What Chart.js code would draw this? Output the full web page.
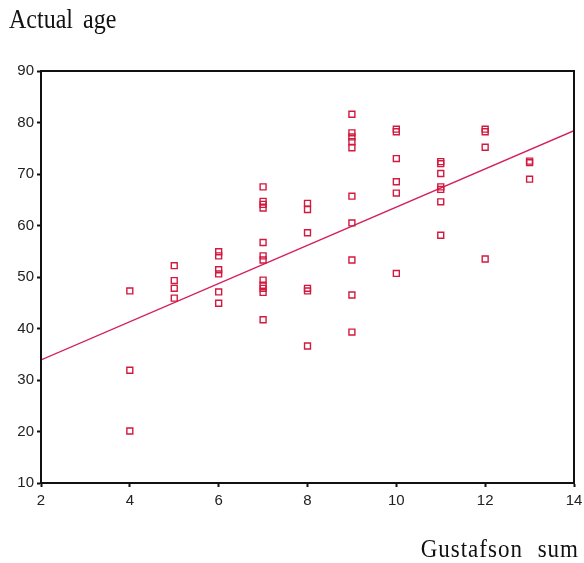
<!DOCTYPE html>
<html>
<head>
<meta charset="utf-8">
<script src="https://cdn.jsdelivr.net/npm/chart.js@4.4.1/dist/chart.umd.min.js"></script>
<style>
  html, body { margin: 0; padding: 0; background: #fff; }
  #wrap { width: 584px; height: 563px; }
</style>
</head>
<body>
<div id="wrap"><canvas id="age-chart" width="584" height="563"></canvas></div>
<script>
// Gustafson sum (x) and actual age (y) for each case
const gustafson = [
  4, 4, 4,
  5, 5, 5, 5,
  6, 6, 6, 6, 6, 6,
  7, 7, 7, 7, 7, 7, 7, 7, 7, 7, 7, 7,
  8, 8, 8, 8, 8, 8,
  9, 9, 9, 9, 9, 9, 9, 9, 9, 9,
  10, 10, 10, 10, 10, 10,
  11, 11, 11, 11, 11, 11, 11,
  12, 12, 12, 12,
  13, 13, 13
];
const actualAge = [
  47.3, 31.9, 20.1,
  52.2, 49.3, 47.8, 45.9,
  54.9, 54.1, 51.4, 50.6, 47.1, 44.9,
  67.5, 64.7, 64.1, 63.4, 56.7, 54.1, 53.3, 49.4, 48.4, 47.8, 47.0, 41.7,
  64.3, 63.1, 58.6, 47.8, 47.3, 36.6,
  81.6, 78.0, 77.2, 76.3, 75.1, 65.7, 60.5, 53.3, 46.5, 39.3,
  78.7, 78.2, 73.0, 68.5, 66.3, 50.7,
  72.4, 72.0, 70.1, 67.5, 67.0, 64.6, 58.1,
  78.7, 78.2, 75.2, 53.5,
  72.5, 72.2, 69.0
];

// fitted regression line, ends at the axis limits
const fitX = [2, 14];
const fitY = [33.9, 78.4];

const xTicks = [2, 4, 6, 8, 10, 12, 14];
const yTicks = [10, 20, 30, 40, 50, 60, 70, 80, 90];

const yTitle = 'Actual age';
const xTitle = 'Gustafson sum';

// box around the plot area + the two axis captions (old SPSS style)
const frameBox = {
    id: 'frameBox',
    afterDraw(chart) {
        const { ctx, chartArea: a } = chart;
        ctx.save();
        ctx.strokeStyle = '#111';
        ctx.lineWidth = 2;
        ctx.strokeRect(a.left, a.top, a.right - a.left, a.bottom - a.top);

        ctx.fillStyle = '#111';
        ctx.textBaseline = 'alphabetic';

        // caption of the y axis, top left
        ctx.save();
        ctx.font = '24px "Liberation Serif"';
        if ('wordSpacing' in ctx) ctx.wordSpacing = '4px';
        ctx.translate(9, 28);
        ctx.scale(1, 1.12);
        ctx.textAlign = 'left';
        ctx.fillText(yTitle, 0, 0);
        ctx.restore();

        // caption of the x axis, bottom right
        ctx.save();
        ctx.font = '23px "Liberation Serif"';
        if ('wordSpacing' in ctx) ctx.wordSpacing = '8px';
        if ('letterSpacing' in ctx) ctx.letterSpacing = '1px';
        ctx.translate(579, 557);
        ctx.scale(1, 1.1);
        ctx.textAlign = 'right';
        ctx.fillText(xTitle, 0, 0);
        ctx.restore();

        ctx.restore();
    }
};

new Chart(document.getElementById('age-chart'), {
    type: 'scatter',
    data: {
        datasets: [
            {
                label: 'Cases',
                data: gustafson.map((g, i) => ({ x: g, y: actualAge[i] })),
                pointStyle: 'rect',
                pointRadius: 4.2,
                pointBorderWidth: 1.4,
                borderColor: '#d11a3f',
                backgroundColor: 'rgba(0,0,0,0)'
            },
            {
                type: 'line',
                label: 'Fit',
                data: fitX.map((g, i) => ({ x: g, y: fitY[i] })),
                borderColor: '#d41f5c',
                borderWidth: 1.4,
                pointRadius: 0,
                fill: false
            }
        ]
    },
    options: {
        responsive: false,
        animation: false,
        layout: { padding: { left: 0, right: 0, top: 71, bottom: 48 } },
        plugins: {
            legend: { display: false },
            tooltip: { enabled: false },
            title: { display: false }
        },
        scales: {
            x: {
                type: 'linear',
                min: 2,
                max: 14,
                afterBuildTicks: s => { s.ticks = xTicks.map(v => ({ value: v })); },
                afterFit: s => { s.paddingRight = 10; s.paddingLeft = 0; },
                grid: { drawOnChartArea: false, drawTicks: true, tickLength: 4, color: '#111', tickWidth: 2 },
                border: { color: '#111', width: 2 },
                ticks: {
                    color: '#222',
                    padding: 5,
                    font: { family: 'Liberation Sans', size: 15 }
                }
            },
            y: {
                type: 'linear',
                min: 10,
                max: 90,
                afterBuildTicks: s => { s.ticks = yTicks.map(v => ({ value: v })); },
                afterFit: s => { s.width = 41; },
                grid: { drawOnChartArea: false, drawTicks: true, tickLength: 4, color: '#111', tickWidth: 2 },
                border: { color: '#111', width: 2 },
                ticks: {
                    color: '#222',
                    padding: 3,
                    font: { family: 'Liberation Sans', size: 15 }
                }
            }
        }
    },
    plugins: [frameBox]
});
</script>
</body>
</html>
